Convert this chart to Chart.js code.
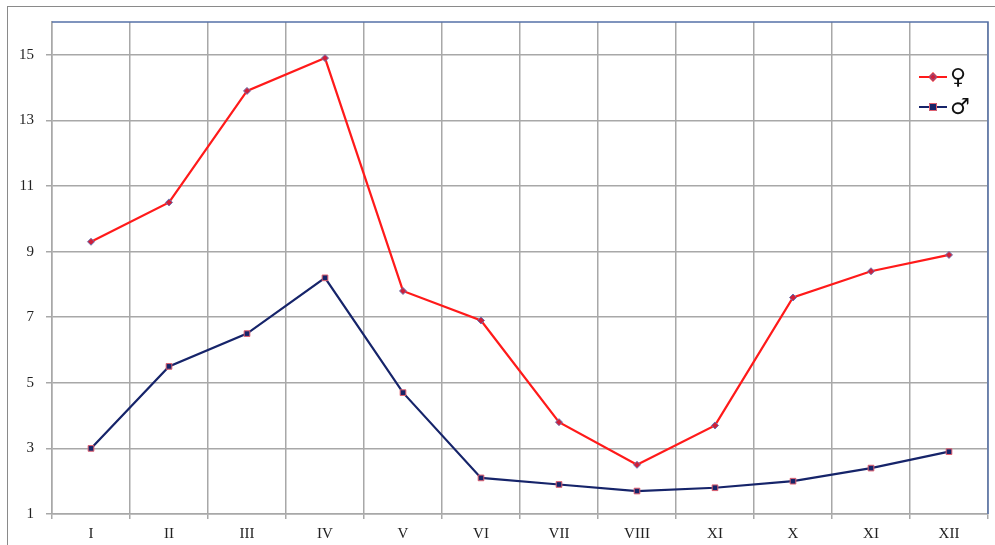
<!DOCTYPE html>
<html><head><meta charset="utf-8">
<script src="https://cdn.jsdelivr.net/npm/chart.js@4"></script>
<style>
html,body{margin:0;padding:0;background:#fff;}
#wrap{position:absolute;left:0;top:0;width:995px;height:545px;}
#frame{position:absolute;left:7px;top:6px;width:1000px;height:600px;border-top:1px solid #8a8a8a;border-left:1px solid #8a8a8a;pointer-events:none;}
</style></head>
<body>
<div id="wrap"><canvas id="c" width="995" height="545"></canvas><div id="frame"></div></div>
<script>
const categories = ["I","II","III","IV","V","VI","VII","VIII","XI","X","XI","XII"];
const female = [9.3,10.5,13.9,14.9,7.8,6.9,3.8,2.5,3.7,7.6,8.4,8.9];
const male = [3.0,5.5,6.5,8.2,4.7,2.1,1.9,1.7,1.8,2.0,2.4,2.9];
const yTicks = [1,3,5,7,9,11,13,15];
const seriesLabels = ["\u2640","\u2642"];

const framePlugin = {
  id:'framePlugin',
  beforeDatasetsDraw(chart){
    const {ctx, chartArea:a} = chart;
    ctx.save();
    ctx.strokeStyle = '#5571a8';
    ctx.lineWidth = 1.5;
    ctx.beginPath();
    ctx.moveTo(a.left, a.top); ctx.lineTo(a.right, a.top); ctx.lineTo(a.right, a.bottom);
    ctx.stroke();
    ctx.restore();
  }
};
const legendPlugin = {
  id:'legendPlugin',
  afterDraw(chart){
    const {ctx} = chart;
    const rows = [77,107];
    chart.data.datasets.forEach((ds,i)=>{
      const y = rows[i];
      ctx.save();
      ctx.strokeStyle = ds.borderColor; ctx.lineWidth = 2;
      ctx.beginPath(); ctx.moveTo(919,y); ctx.lineTo(947,y); ctx.stroke();
      Chart.helpers.drawPoint(ctx,{pointStyle:ds.pointStyle, radius:ds.pointRadius, borderWidth:ds.pointBorderWidth}, 933, y);
      ctx.fillStyle = ds.pointBackgroundColor; ctx.strokeStyle = ds.pointBorderColor; ctx.lineWidth = ds.pointBorderWidth;
      ctx.beginPath();
      if (ds.pointStyle === 'rect') { ctx.rect(933-3.5,y-3.5,7,7); } else { ctx.moveTo(933,y-3.5); ctx.lineTo(936.5,y); ctx.lineTo(933,y+3.5); ctx.lineTo(929.5,y); ctx.closePath(); }
      ctx.fill(); ctx.stroke();
      ctx.fillStyle = '#111';
      ctx.font = '22px "DejaVu Sans"';
      ctx.textAlign = 'left'; ctx.textBaseline = 'middle';
      ctx.fillText(ds.label, 950, y+1);
      ctx.restore();
    });
  }
};

new Chart(document.getElementById('c'), {
  type:'line',
  data:{
    labels:categories,
    datasets:[
      {label:seriesLabels[0], data:female, borderColor:'#ff1a1a', borderWidth:2.2, tension:0,
       pointStyle:'rectRot', pointRadius:3.5, pointBackgroundColor:'#d0203a', pointBorderColor:'#6a72b0', pointBorderWidth:1},
      {label:seriesLabels[1], data:male, borderColor:'#16246a', borderWidth:2.2, tension:0,
       pointStyle:'rect', pointRadius:4, pointBackgroundColor:'#16246a', pointBorderColor:'#e06070', pointBorderWidth:1}
    ]
  },
  options:{
    responsive:false, animation:false, devicePixelRatio:1,
    layout:{padding:{left:0,top:22,right:7,bottom:0}},
    plugins:{legend:{display:false}, tooltip:{enabled:false}},
    scales:{
      x:{
        offset:true,
        grid:{offset:true, color:'#a8a8a8', lineWidth:1.5, tickLength:5, drawTicks:true},
        border:{color:'#a8a8a8', width:1.5},
        ticks:{color:'#222', font:{family:'"Liberation Serif"', size:15}, padding:6, maxRotation:0, autoSkip:false},
        afterFit(s){ s.height = 31; }
      },
      y:{
        min:1, max:16,
        afterBuildTicks(s){ s.ticks = yTicks.map(v=>({value:v})); },
        grid:{color:'#a8a8a8', lineWidth:1.5, tickLength:6},
        border:{color:'#a8a8a8', width:1.5},
        ticks:{color:'#222', font:{family:'"Liberation Serif"', size:15}, padding:12},
        afterFit(s){ s.width = 52; }
      }
    }
  },
  plugins:[framePlugin, legendPlugin]
});
</script>
</body></html>
